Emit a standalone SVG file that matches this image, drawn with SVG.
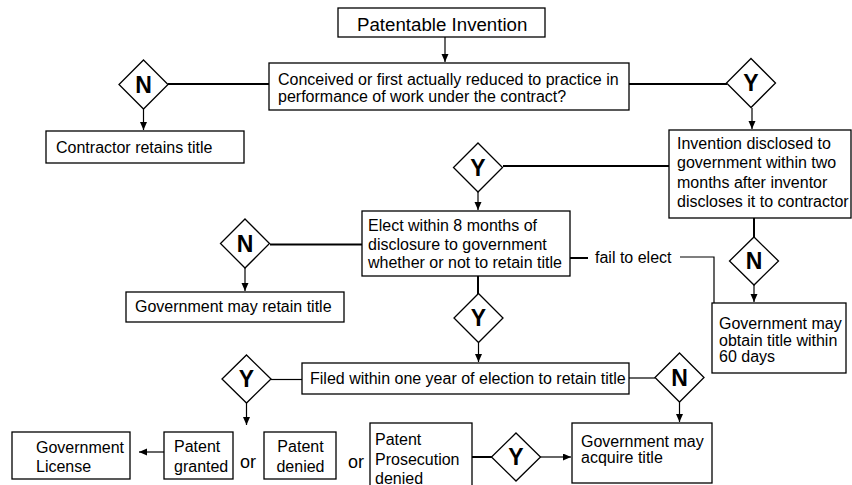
<svg xmlns="http://www.w3.org/2000/svg" width="852" height="485" viewBox="0 0 852 485">
<style>
.bg{fill:#fff}
.box{fill:#fff;stroke:#000;stroke-width:1.3}
.dia{fill:#fff;stroke:#000;stroke-width:1.3}
.t{font-family:"Liberation Sans",Arial,sans-serif;font-size:16px;fill:#000}
.tt{font-family:"Liberation Sans",Arial,sans-serif;font-size:18.7px;fill:#000}
.or{font-family:"Liberation Sans",Arial,sans-serif;font-size:18px;fill:#000}
.d{font-family:"Liberation Sans",Arial,sans-serif;font-size:23px;font-weight:bold;fill:#000;text-anchor:middle}
.thick{stroke:#000;stroke-width:2;fill:none}
.thin{stroke:#000;stroke-width:1.2;fill:none}
.arr{stroke:#000;stroke-width:1.2;fill:none;marker-end:url(#ah)}
</style>
<defs>
<marker id="ah" markerUnits="userSpaceOnUse" markerWidth="8" markerHeight="8" refX="8" refY="3.5" orient="auto">
<path d="M0,0 L8,3.5 L0,7 z" fill="#000"/>
</marker>
</defs>
<rect class="bg" x="0" y="0" width="852" height="485"/>
<g id="connectors">
<line class="arr" x1="445" y1="37" x2="445" y2="62"/>
<line class="thick" x1="269" y1="84" x2="168" y2="84"/>
<line class="arr" x1="143.5" y1="109" x2="143.5" y2="130"/>
<line class="thick" x1="629" y1="84" x2="727" y2="84"/>
<line class="arr" x1="752" y1="108" x2="752" y2="129"/>
<line class="thick" x1="669" y1="166" x2="503" y2="166"/>
<line class="arr" x1="478" y1="192" x2="478" y2="210"/>
<line class="thick" x1="362" y1="244.5" x2="270" y2="244.5"/>
<line class="arr" x1="245" y1="268" x2="245" y2="291"/>
<line class="thick" x1="570" y1="258" x2="588" y2="258"/>
<polyline class="thin" points="680,257 714,257 714,303"/>
<line class="thick" x1="754" y1="218" x2="754" y2="237"/>
<line class="arr" x1="754" y1="285" x2="754" y2="302"/>
<line class="thick" x1="478" y1="276" x2="478" y2="294"/>
<line class="arr" x1="478.5" y1="343" x2="478.5" y2="362"/>
<line class="thin" x1="302" y1="379.5" x2="271" y2="379.5"/>
<line class="thin" x1="629" y1="378" x2="655" y2="378"/>
<line class="arr" x1="246.5" y1="403" x2="246.5" y2="425"/>
<line class="arr" x1="679.5" y1="402" x2="679.5" y2="422"/>
<line class="arr" x1="164" y1="452" x2="139" y2="452"/>
<line class="thick" x1="472" y1="457" x2="492" y2="457"/>
<line class="arr" x1="540" y1="457" x2="571" y2="457"/>
<text class="t" x="595" y="263">fail to elect</text>
</g>
<g id="n-title">
<rect class="box" x="338" y="8" width="207" height="29"/>
<text class="tt" x="357" y="30.5">Patentable Invention</text>
</g>
<g id="n-question">
<rect class="box" x="269" y="63" width="360" height="47"/>
<text class="t" x="278" y="85">Conceived or first actually reduced to practice in</text>
<text class="t" x="278" y="102">performance of work under the contract?</text>
</g>
<g id="d-n1">
<polygon class="dia" points="143.5,60 168,84.5 143.5,109 119,84.5"/>
<text class="d" x="143.5" y="92.7">N</text>
</g>
<g id="n-contractor">
<rect class="box" x="46" y="131" width="198" height="32"/>
<text class="t" x="56" y="153">Contractor retains title</text>
</g>
<g id="d-y1">
<polygon class="dia" points="751,58.5 775.5,83 751,107.5 726.5,83"/>
<text class="d" x="751" y="91.2">Y</text>
</g>
<g id="n-disclosed">
<rect class="box" x="669" y="130" width="182" height="88"/>
<text class="t" x="677" y="149">Invention disclosed to</text>
<text class="t" x="677" y="168">government within two</text>
<text class="t" x="677" y="188">months after inventor</text>
<text class="t" x="677" y="207">discloses it to contractor</text>
</g>
<g id="d-y2">
<polygon class="dia" points="478,143 502.5,167.5 478,192 453.5,167.5"/>
<text class="d" x="478" y="175.7">Y</text>
</g>
<g id="n-elect">
<rect class="box" x="362" y="211" width="208" height="65"/>
<text class="t" x="368" y="231">Elect within 8 months of</text>
<text class="t" x="368" y="250">disclosure to government</text>
<text class="t" x="368" y="268">whether or not to retain title</text>
</g>
<g id="d-n2">
<polygon class="dia" points="245,219 269.5,243.5 245,268 220.5,243.5"/>
<text class="d" x="245" y="251.7">N</text>
</g>
<g id="n-gov-retain">
<rect class="box" x="126" y="292" width="218" height="30"/>
<text class="t" x="135" y="312">Government may retain title</text>
</g>
<g id="d-n3">
<polygon class="dia" points="754,237 778.5,261 754,285 729.5,261"/>
<text class="d" x="754" y="269.2">N</text>
</g>
<g id="n-gov-obtain">
<rect class="box" x="712" y="303" width="134" height="70"/>
<text class="t" x="719" y="329">Government may</text>
<text class="t" x="719" y="345.5">obtain title within</text>
<text class="t" x="719" y="362">60 days</text>
</g>
<g id="d-y3">
<polygon class="dia" points="478.5,293.5 503,318 478.5,342.5 454,318"/>
<text class="d" x="478.5" y="326.2">Y</text>
</g>
<g id="n-filed">
<rect class="box" x="302" y="363" width="327" height="31"/>
<text class="t" x="310" y="384">Filed within one year of election to retain title</text>
</g>
<g id="d-y4">
<polygon class="dia" points="246.5,355 271,379 246.5,403 222,379"/>
<text class="d" x="246.5" y="387.2">Y</text>
</g>
<g id="d-n4">
<polygon class="dia" points="679.5,353 704,377.5 679.5,402 655,377.5"/>
<text class="d" x="679.5" y="385.7">N</text>
</g>
<g id="n-license">
<rect class="box" x="12" y="432" width="118" height="47"/>
<text class="t" x="36" y="453">Government</text>
<text class="t" x="36" y="472">License</text>
</g>
<g id="n-granted">
<rect class="box" x="164" y="432" width="69" height="47"/>
<text class="t" x="174" y="452">Patent</text>
<text class="t" x="174" y="472">granted</text>
</g>
<text class="or" x="240" y="468">or</text>
<g id="n-denied">
<rect class="box" x="264" y="432" width="72" height="47"/>
<text class="t" x="300.5" y="452" text-anchor="middle">Patent</text>
<text class="t" x="300.5" y="472" text-anchor="middle">denied</text>
</g>
<text class="or" x="348" y="468">or</text>
<g id="n-prosecution">
<rect class="box" x="370" y="423" width="102" height="70"/>
<text class="t" x="375" y="445">Patent</text>
<text class="t" x="375" y="465">Prosecution</text>
<text class="t" x="375" y="484">denied</text>
</g>
<g id="d-y5">
<polygon class="dia" points="516,433 540.5,457 516,481 491.5,457"/>
<text class="d" x="516" y="465.2">Y</text>
</g>
<g id="n-gov-acquire">
<rect class="box" x="572" y="423" width="140" height="60"/>
<text class="t" x="581" y="447">Government may</text>
<text class="t" x="581" y="463">acquire title</text>
</g>
</svg>
